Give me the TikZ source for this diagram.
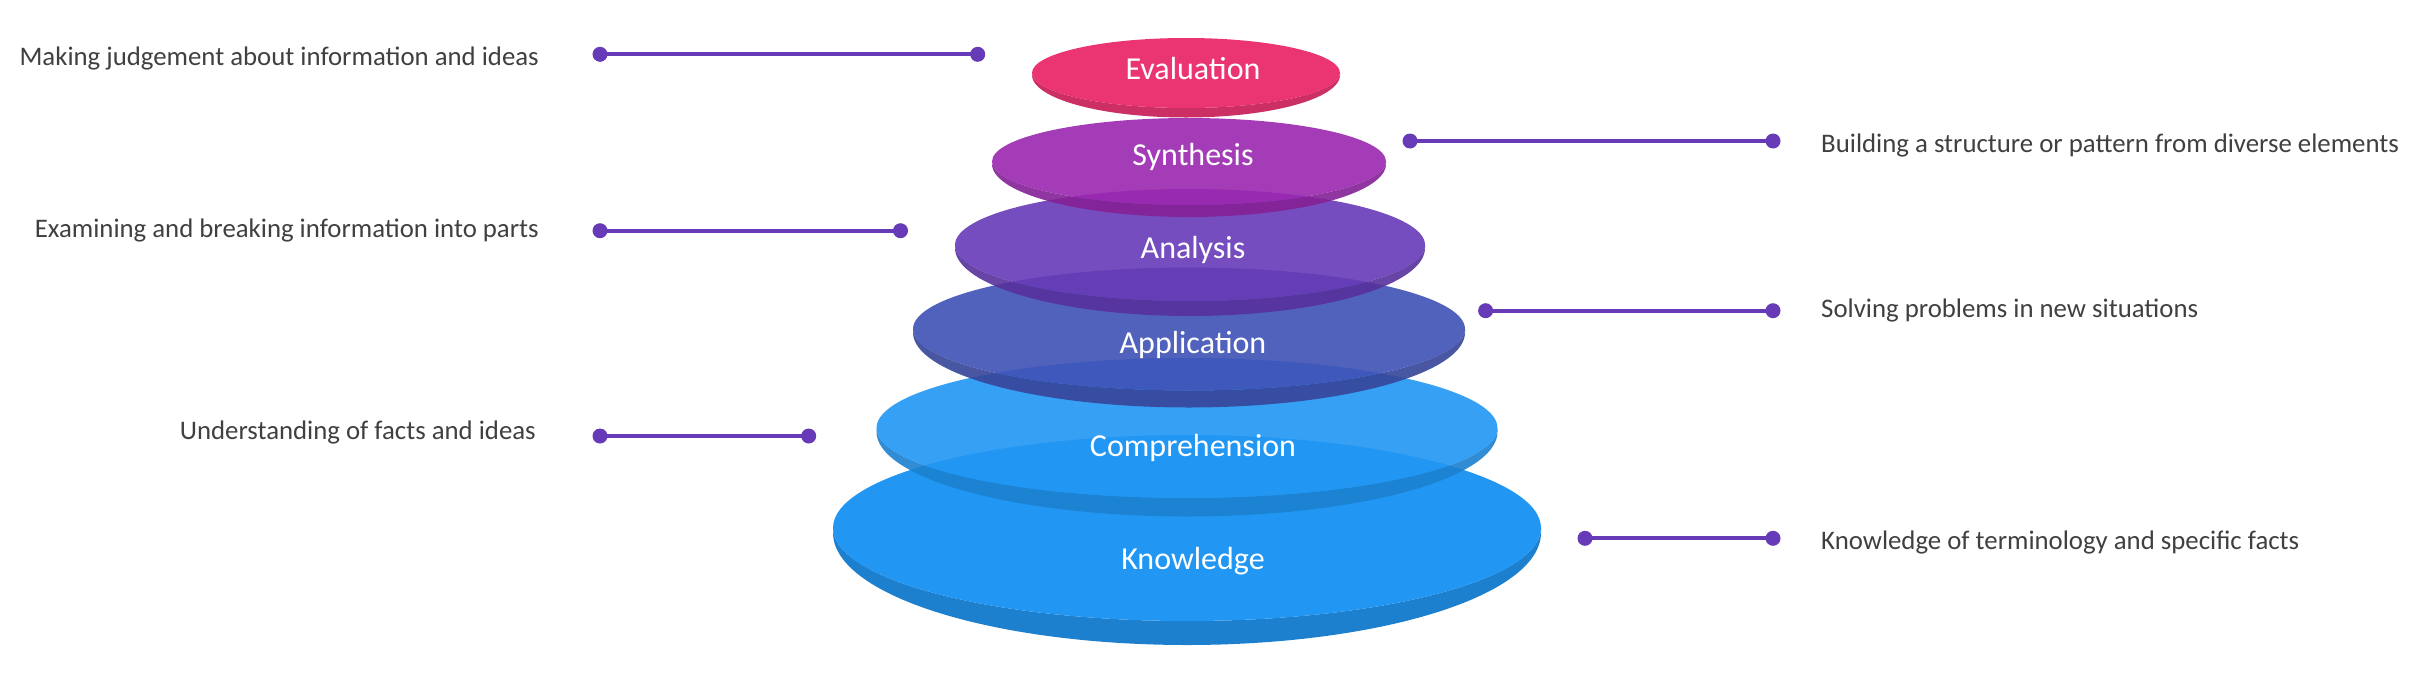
\documentclass[tikz,border=0pt]{standalone}
\usepackage{fontspec}
\setmainfont{Carlito}
\definecolor{cEval}{HTML}{E91E63}
\definecolor{cSyn}{HTML}{9C27B0}
\definecolor{cAna}{HTML}{673AB7}
\definecolor{cApp}{HTML}{3F51B5}
\definecolor{cCom}{HTML}{2196F3}
\definecolor{cKno}{HTML}{2196F3}
\definecolor{lineC}{HTML}{673AB7}
\definecolor{txtC}{HTML}{404040}
% cx cy rx ry thickness colour opacity
\newcommand\bloomdisk[7]{%
  \fill[#6!85!black, fill opacity=#7] ({#1-#3},{#2}) -- ({#1-#3},{#2+0.2*#5})
    -- plot[domain=180:0,samples=140,variable=\a] ({#1+#3*cos(\a)},{#2+0.2*#5+(#4+0.8*#5)*sin(\a)})
    -- ({#1+#3},{#2})
    -- plot[domain=0:180,samples=140,variable=\a] ({#1+#3*cos(\a)},{#2+#4*sin(\a)}) -- cycle;
  \fill[#6, fill opacity=#7] ({#1},{#2}) ellipse[x radius=#3pt, y radius=#4pt];
}
\begin{document}
\begin{tikzpicture}[x=1pt,y=-1pt,
  disklbl/.style={text=white, font=\fontsize{32}{38}\selectfont, anchor=base, inner sep=0pt},
  sidelbl/.style={text=txtC, font=\fontsize{26.8}{32}\selectfont, inner sep=0pt},
  dotn/.style={circle, fill=lineC, minimum size=15pt, inner sep=0pt},
  conn/.style={draw=lineC, line width=4pt}]
\useasboundingbox (0,0) rectangle (2432,694);
\fill[white] (0,0) rectangle (2432,694);

% disks, bottom to top
\bloomdisk{1187}{528}{354}{93}{24}{cKno}{1}
\bloomdisk{1187}{428}{310.5}{70}{18.5}{cCom}{0.9}
\bloomdisk{1189}{329}{276}{61.5}{17}{cApp}{0.9}
\bloomdisk{1190}{245}{235}{56}{15}{cAna}{0.9}
\bloomdisk{1189}{161.5}{197}{43.5}{12}{cSyn}{0.9}
\bloomdisk{1186}{73}{154}{35}{9.5}{cEval}{0.9}

% disk labels
\node[disklbl] (knowledge) at (1193,569.3) {Knowledge};
\node[disklbl] (comprehension) at (1193,456) {Comprehension};
\node[disklbl] (application) at (1193,353.3) {Application};
\node[disklbl] (analysis) at (1193,258.3) {Analysis};
\node[disklbl] (synthesis) at (1193,165.7) {Synthesis};
\node[disklbl] (evaluation) at (1193,79) {Evaluation};

% connectors
\node[dotn] (m1) at (600,54.3) {};
\node[dotn] (m2) at (977.7,54.3) {};
\node[dotn] (e1) at (600,230.7) {};
\node[dotn] (e2) at (900.5,230.7) {};
\node[dotn] (u1) at (600,436) {};
\node[dotn] (u2) at (808.7,436) {};
\node[dotn] (b1) at (1410,141) {};
\node[dotn] (b2) at (1773,141) {};
\node[dotn] (s1) at (1485.6,310.7) {};
\node[dotn] (s2) at (1773,310.7) {};
\node[dotn] (k1) at (1585,538.3) {};
\node[dotn] (k2) at (1773,538.3) {};
\draw[conn] (m1.center) -- (m2.center);
\draw[conn] (e1.center) -- (e2.center);
\draw[conn] (u1.center) -- (u2.center);
\draw[conn] (b1.center) -- (b2.center);
\draw[conn] (s1.center) -- (s2.center);
\draw[conn] (k1.center) -- (k2.center);

% side labels
\node[sidelbl, anchor=base east] (lm) at (539,65) {Making judgement about information and ideas};
\node[sidelbl, anchor=base east] (le) at (539,237.3) {Examining and breaking information into parts};
\node[sidelbl, anchor=base east] (lu) at (536,439) {Understanding of facts and ideas};
\node[sidelbl, anchor=base west] (lb) at (1821,152.3) {Building a structure or pattern from diverse elements};
\node[sidelbl, anchor=base west] (ls) at (1821,317.3) {Solving problems in new situations};
\node[sidelbl, anchor=base west] (lk) at (1821,549) {Knowledge of terminology and specific facts};
\end{tikzpicture}
\end{document}
